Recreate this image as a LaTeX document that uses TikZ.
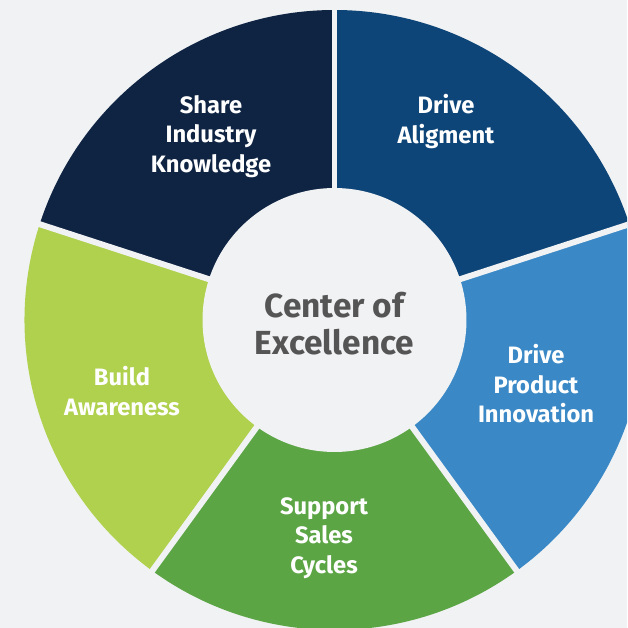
\documentclass[tikz,border=0pt]{standalone}
\usepackage{fontspec}
\setmainfont{Fira Sans}
\usepackage{tikz}
\usetikzlibrary{positioning}
\usetikzlibrary{calc}
\definecolor{bgcol}{HTML}{F1F2F4}
\definecolor{shareind}{HTML}{0F2443}
\definecolor{drivealign}{HTML}{0E4578}
\definecolor{driveprod}{HTML}{3A89C6}
\definecolor{supportsales}{HTML}{5BA544}
\definecolor{buildaware}{HTML}{AFD14D}
\definecolor{hubtext}{HTML}{555555}
\tikzset{seglabel/.style = {text=white, align=center,
                            font=\bfseries\fontsize{13.5}{16.8}\selectfont}}
\tikzset{gapline/.style = {draw=bgcol, line width=3.4pt}}
\tikzset{hub/.style = {circle, fill=bgcol, inner sep=0pt, minimum size=5.28cm}}
\tikzset{hublabel/.style = {text=hubtext, align=center,
                            font=\bfseries\fontsize{19}{21}\selectfont}}

\begin{document}
\begin{tikzpicture}[x=0.02cm, y=-0.02cm]
      \fill [bgcol] (0, 0) rectangle (627, 628);
      \useasboundingbox (0, 0) rectangle (627, 628);
      \clip (0, 0) rectangle (627, 628);

      \coordinate (c) at (334.5, 320);

      \foreach \a/\col in {-90/shareind, -162/buildaware, 126/supportsales,
                           54/driveprod, -18/drivealign} {
        \fill [\col] (c) -- ++(\a:310) arc (\a:\a-72:310) -- cycle;
      }

      \foreach \a in {-90, -162, 126, 54, -18} {
        \coordinate (g\a) at ($(c) + (\a:330)$);
        \draw [gapline] (c) -- (g\a);
      }

      \node [hub] (hub) at (c) {};
      \node [hublabel] (coe) at (334.5, 323.5) {Center of\\Excellence};

      \node [seglabel] (share) at (211, 136.5) {Share\\Industry\\Knowledge};
      \node [seglabel] (align) at (446, 121.5) {Drive\\Aligment};
      \node [seglabel] (prod) at (536, 384) {Drive\\Product\\Innovation};
      \node [seglabel] (sales) at (324, 538) {Support\\Sales\\Cycles};
      \node [seglabel] (aware) at (122, 391) {Build\\Awareness};
    \end{tikzpicture}
\end{document}
